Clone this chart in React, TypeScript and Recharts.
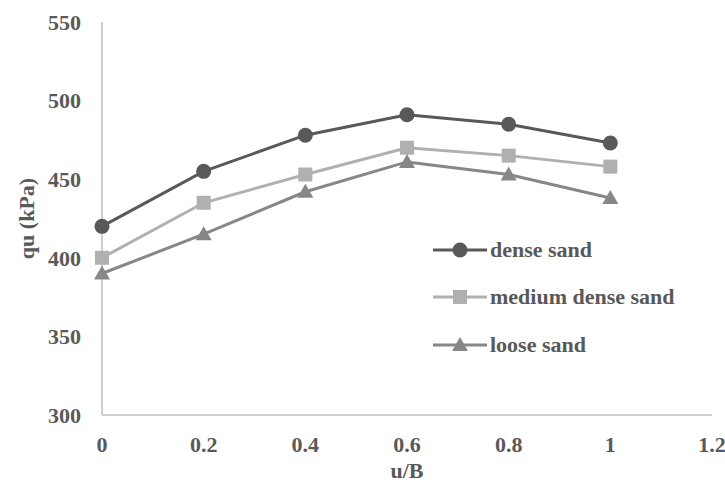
import React from "react";
import {
  LineChart,
  Line,
  XAxis,
  YAxis,
  Legend,
  Label,
} from "recharts";

const ubValues = [0, 0.2, 0.4, 0.6, 0.8, 1];
const denseSand = [420, 455, 478, 491, 485, 473];
const mediumDenseSand = [400, 435, 453, 470, 465, 458];
const looseSand = [390, 415, 442, 461, 453, 438];

const xTicks = [0, 0.2, 0.4, 0.6, 0.8, 1, 1.2];
const yTicks = [300, 350, 400, 450, 500, 550];

const data = ubValues.map((u, i) => ({
  u,
  dense: denseSand[i],
  medium: mediumDenseSand[i],
  loose: looseSand[i],
}));

const FONT =
  "Liberation Serif, Tinos, Times New Roman, Times, DejaVu Serif, Noto Serif, FreeSerif, serif";
const TEXT_COLOR = "#595959";
const AXIS_COLOR = "#bfbfbf";

const SERIES = [
  { key: "dense", name: "dense sand", color: "#595959", shape: "circle" },
  { key: "medium", name: "medium dense sand", color: "#b0b0b0", shape: "square" },
  { key: "loose", name: "loose sand", color: "#878787", shape: "triangle" },
];

const Marker = ({ cx, cy, shape, color }: any) => {
  if (cx == null || cy == null) return null;
  if (shape === "circle") return <circle cx={cx} cy={cy} r={7.5} fill={color} />;
  if (shape === "square")
    return <rect x={cx - 7} y={cy - 7} width={14} height={14} fill={color} />;
  return (
    <polygon
      points={`${cx},${cy - 8} ${cx + 8},${cy + 6} ${cx - 8},${cy + 6}`}
      fill={color}
    />
  );
};

const renderDot = (shape: string, color: string) => (props: any) => (
  <Marker
    key={`${shape}-${props.index}`}
    cx={props.cx}
    cy={props.cy}
    shape={shape}
    color={color}
  />
);

const LegendContent = () => {
  return (
    <div style={{ fontFamily: FONT, fontWeight: "bold", fontSize: 22, color: TEXT_COLOR }}>
      {SERIES.map((s) => (
        <div
          key={s.key}
          style={{ display: "flex", alignItems: "center", height: 47.5 }}
        >
          <svg width={57} height={20} style={{ display: "block" }}>
            <line x1={0} y1={10} x2={54} y2={10} stroke={s.color} strokeWidth={3} />
            <Marker cx={27} cy={10} shape={s.shape} color={s.color} />
          </svg>
          <span style={{ whiteSpace: "nowrap" }}>{s.name}</span>
        </div>
      ))}
    </div>
  );
};

const XTitle = (props: any) => {
  const { viewBox } = props;
  return (
    <text
      x={viewBox.x + viewBox.width / 2}
      y={478}
      textAnchor="middle"
      style={{ fontFamily: FONT, fontWeight: "bold", fontSize: 22 }}
      fill={TEXT_COLOR}
    >
      u/B
    </text>
  );
};

const YTitle = (props: any) => {
  const { viewBox } = props;
  const cy = viewBox.y + viewBox.height / 2;
  return (
    <text
      x={26}
      y={cy}
      transform={`rotate(-90 26 ${cy})`}
      textAnchor="middle"
      dominantBaseline="central"
      style={{ fontFamily: FONT, fontWeight: "bold", fontSize: 22 }}
      fill={TEXT_COLOR}
    >
      qu (kPa)
    </text>
  );
};

const tickStyle = {
  style: { fontFamily: FONT, fontWeight: "bold", fontSize: 22 },
  fill: TEXT_COLOR,
};

export default function App() {
  return (
    <div style={{ position: "fixed", left: 0, top: 0, background: "#fff" }}>
      <LineChart
        width={725}
        height={483}
        data={data}
        margin={{ top: 22, right: 13, left: 0, bottom: 0 }}
        style={{ fontFamily: FONT }}
      >
        <XAxis
          type="number"
          dataKey="u"
          domain={[0, 1.2]}
          ticks={xTicks}
          height={68}
          tickLine={false}
          tickSize={0}
          tickMargin={21}
          axisLine={{ stroke: AXIS_COLOR, strokeWidth: 1.5 }}
          tick={tickStyle}
          interval={0}
        >
          <Label content={<XTitle />} />
        </XAxis>
        <YAxis
          type="number"
          domain={[300, 550]}
          ticks={yTicks}
          width={102}
          tickLine={false}
          tickSize={0}
          tickMargin={21}
          axisLine={{ stroke: AXIS_COLOR, strokeWidth: 1.5 }}
          tick={tickStyle}
          interval={0}
        >
          <Label content={<YTitle />} />
        </YAxis>
        <Legend
          layout="vertical"
          align="center"
          verticalAlign="middle"
          wrapperStyle={{ position: "absolute", left: 433, top: 226, width: 290 }}
          content={<LegendContent />}
        />
        {SERIES.map((s) => (
          <Line
            key={s.key}
            type="linear"
            dataKey={s.key}
            name={s.name}
            stroke={s.color}
            strokeWidth={3}
            dot={renderDot(s.shape, s.color)}
            activeDot={false}
            isAnimationActive={false}
          />
        ))}
      </LineChart>
    </div>
  );
}
